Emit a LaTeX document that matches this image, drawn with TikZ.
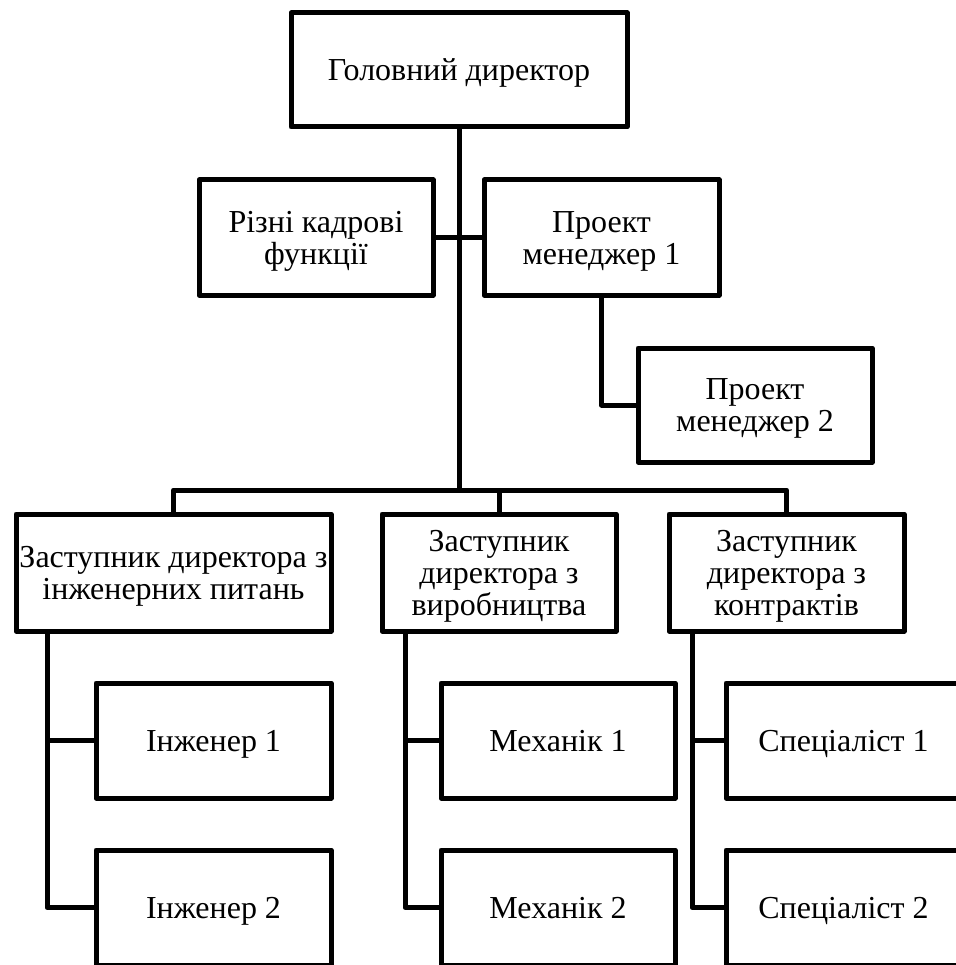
\documentclass[tikz,border=0pt]{standalone}
\usepackage{fontspec}
\setmainfont{Liberation Serif}
\newcommand{\fl}[1]{\rule{0pt}{0.66em}\smash{#1}}
\newcommand{\ol}[1]{\smash{#1}}
\begin{document}
\begin{tikzpicture}[x=1pt,y=-1pt,
  box/.style={draw, line width=5pt, line join=round, rectangle, inner sep=0pt,
    align=center, font=\fontsize{32}{32}\selectfont},
  conn/.style={line width=5pt, line join=round}]
\useasboundingbox (0,0) rectangle (955,965);
% nodes
\node[box, minimum width=336, minimum height=114] (top) at (459,70) {\fl{Головний директор}};
\node[box, minimum width=234, minimum height=115] (riz) at (316,237.5) {\fl{Різні кадрові}\\\ol{функції}};
\node[box, minimum width=235, minimum height=115] (pm1) at (601.5,237.5) {\fl{Проект}\\\ol{менеджер 1}};
\node[box, minimum width=234, minimum height=114] (pm2) at (755,405) {\fl{Проект}\\\ol{менеджер 2}};
\node[box, minimum width=315, minimum height=117] (dep1) at (173.5,572.5) {\fl{Заступник директора з}\\\ol{інженерних питань}};
\node[box, minimum width=234, minimum height=117] (dep2) at (499,572.5) {\fl{Заступник}\\\ol{директора з}\\\ol{виробництва}};
\node[box, minimum width=235, minimum height=117] (dep3) at (786.5,572.5) {\fl{Заступник}\\\ol{директора з}\\\ol{контрактів}};
\node[box, minimum width=235, minimum height=115] (eng1) at (213.5,740.5) {\fl{Інженер 1}};
\node[box, minimum width=235, minimum height=115] (eng2) at (213.5,907.5) {\fl{Інженер 2}};
\node[box, minimum width=234, minimum height=115] (mech1) at (558,740.5) {\fl{Механік 1}};
\node[box, minimum width=234, minimum height=115] (mech2) at (558,907.5) {\fl{Механік 2}};
\node[box, minimum width=235, minimum height=115] (spec1) at (843.5,740.5) {\fl{Спеціаліст 1}};
\node[box, minimum width=235, minimum height=115] (spec2) at (843.5,907.5) {\fl{Спеціаліст 2}};
% helper coordinates
\coordinate (bus) at (0,490);
\coordinate (v1) at (47,632);
\coordinate (v2) at (405,632);
\coordinate (v3) at (692,632);
% connectors
\draw[conn] (top.south) -- (top.south |- bus);
\draw[conn] (riz.east) -- (pm1.west);
\draw[conn] (pm1.south) |- (pm2.west);
\draw[conn] (dep1.north) -- (dep1.north |- bus) -- (dep3.north |- bus) -- (dep3.north);
\draw[conn] (dep2.north) -- (dep2.north |- bus);
\draw[conn] (v1) |- (eng1.west);
\draw[conn] (v1) |- (eng2.west);
\draw[conn] (v2) |- (mech1.west);
\draw[conn] (v2) |- (mech2.west);
\draw[conn] (v3) |- (spec1.west);
\draw[conn] (v3) |- (spec2.west);
\end{tikzpicture}
\end{document}
